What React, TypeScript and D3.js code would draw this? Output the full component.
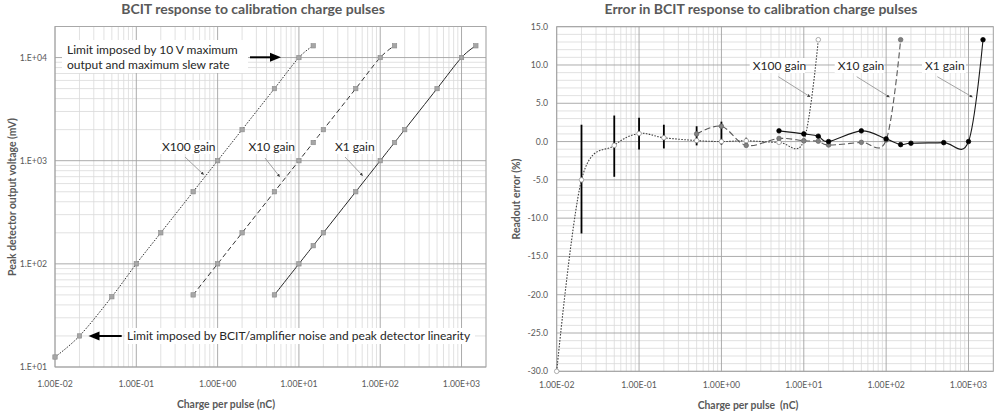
import React from 'react';
import * as d3 from 'd3';

// ---- left chart: peak detector output (mV) vs charge per pulse (nC)
const qX100 = [0.01, 0.02, 0.05, 0.1, 0.2, 0.5, 1, 2, 5, 10, 15];
const vX100 = [12.5, 20, 48, 100, 200, 500, 1000, 2000, 5000, 10000, 13000];
const qX10 = [0.5, 1, 2, 5, 10, 15, 20, 50, 100, 150];
const vX10 = [50, 100, 200, 500, 1000, 1500, 2000, 5000, 10000, 13000];
const qX1 = [5, 10, 15, 20, 50, 100, 150, 200, 500, 1000, 1500];
const vX1 = [50, 100, 150, 200, 500, 1000, 1500, 2000, 5000, 10000, 13000];

// ---- right chart: readout error (%) vs charge per pulse (nC)
const eqX100 = [0.01, 0.02, 0.05, 0.1, 0.2, 0.5, 1, 2, 5, 10, 15];
const errX100 = [-30, -5.0, -0.5, 1.05, 0.5, 0.13, 0.0, 0.1, -0.1, 0.1, 13.3];
const eqX10 = [0.5, 1, 2, 5, 10, 15, 20, 50, 100, 150];
const errX10 = [1.0, 2.0, -0.5, 0.4, 0.1, 0.05, -0.45, -0.1, 0.2, 13.3];
const eqX1 = [5, 10, 15, 20, 50, 100, 150, 200, 500, 1000, 1500];
const errX1 = [1.4, 1.0, 0.7, 0.0, 1.4, 0.35, -0.4, -0.22, -0.14, 0.0, 13.3];
const barQ = [0.02, 0.05, 0.1, 0.2, 0.5, 1, 2];
const barHi = [2.2, 3.4, 3.1, 2.2, 2.0, 2.6, 0.5];
const barLo = [-12.0, -4.6, -1.05, -0.9, -0.5, -0.4, -0.7];

const decadeLabels = ['1.00E-02', '1.00E-01', '1.00E+00', '1.00E+01', '1.00E+02', '1.00E+03'];
const voltLabels = ['1.E+01', '1.E+02', '1.E+03', '1.E+04'];
const errTicks = [15, 10, 5, 0, -5, -10, -15, -20, -25, -30];

const FONT = 'Lato, "Open Sans", sans-serif';
const TXT = '#595959';
const MAJOR = '#a3a3a3';
const MINOR = '#d9d9d9';

const zip = (a: number[], b: number[]) => a.map((v, i) => [v, b[i]] as [number, number]);
const isDecade = (v: number) => Math.abs(Math.log10(v) - Math.round(Math.log10(v))) < 1e-9;

const LeftChart = () => {
  const x = d3.scaleLog().domain([0.01, 2000]).range([55, 486]);
  const y = d3.scaleLog().domain([10, 20000]).range([367, 26.5]);
  const line = d3.line<[number, number]>()
    .x(d => x(d[0])).y(d => y(d[1]))
    .curve(d3.curveCardinal.tension(0));
  const series = [
    { pts: zip(qX100, vX100), dash: '1.6 1.4', color: '#333' },
    { pts: zip(qX10, vX10), dash: '5 3', color: '#333' },
    { pts: zip(qX1, vX1), dash: null, color: '#262626' },
  ];
  const [x0, x1] = x.range();
  const [y0, y1] = y.range();
  return (
    <g>
      <text x={253} y={13.5} textAnchor="middle" fontSize={14} fontWeight="bold" fill={TXT}>
        BCIT response to calibration charge pulses
      </text>
      {x.ticks().filter(v => !isDecade(v)).map(v => (
        <line key={'vx' + v} x1={x(v)} x2={x(v)} y1={y1} y2={y0} stroke={MINOR} strokeWidth={0.8} />
      ))}
      {y.ticks().filter(v => !isDecade(v)).map(v => (
        <line key={'vy' + v} x1={x0} x2={x1} y1={y(v)} y2={y(v)} stroke={MINOR} strokeWidth={0.8} />
      ))}
      {x.ticks().filter(isDecade).map(v => (
        <line key={'mx' + v} x1={x(v)} x2={x(v)} y1={y1} y2={y0} stroke={MAJOR} strokeWidth={0.9} />
      ))}
      {y.ticks().filter(isDecade).map(v => (
        <line key={'my' + v} x1={x0} x2={x1} y1={y(v)} y2={y(v)} stroke={MAJOR} strokeWidth={0.9} />
      ))}
      <rect x={x0} y={y1} width={x1 - x0} height={y0 - y1} fill="none" stroke={MAJOR} strokeWidth={0.9} />
      {x.ticks().filter(isDecade).map((v, i) => (
        <text key={'xl' + v} x={x(v)} y={387} textAnchor="middle" fontSize={8.7} fill={TXT}>{decadeLabels[i]}</text>
      ))}
      {y.ticks().filter(isDecade).map((v, i) => (
        <text key={'yl' + v} x={47} y={y(v) + 3} textAnchor="end" fontSize={8.7} fill={TXT}>{voltLabels[i]}</text>
      ))}
      <text x={226} y={408} textAnchor="middle" fontSize={10.4} fontWeight="bold" fill={TXT}>Charge per pulse (nC)</text>
      <text transform="translate(16,197) rotate(-90)" textAnchor="middle" fontSize={10.4} fontWeight="bold" fill={TXT}>
        Peak detector output voltage (mV)
      </text>

      {/* annotations */}
      <rect x={62} y={40} width={186} height={33} fill="#fff" />
      <text x={67} y={53.5} fontSize={12} fill="#262626">Limit imposed by 10 V maximum</text>
      <text x={67} y={68.5} fontSize={12} fill="#262626">output and maximum slew rate</text>
      <line x1={250} y1={57.3} x2={272} y2={57.3} stroke="#000" strokeWidth={2} />
      <path d="M281,57.3 L270,52.8 L270,61.8 Z" fill="#000" />
      <rect x={125} y={328} width={350} height={16} fill="#fff" />
      <text x={127} y={340} fontSize={12} fill="#262626">Limit imposed by BCIT/amplifier noise and peak detector linearity</text>
      <line x1={121.7} y1={336} x2={97} y2={336} stroke="#000" strokeWidth={2} />
      <path d="M88.5,336 L99.5,331.5 L99.5,340.5 Z" fill="#000" />

      {[
        { t: 'X100 gain', tx: 162, a: [185, 157, 203.5, 174.5] },
        { t: 'X10 gain', tx: 248.5, a: [265, 158, 279.5, 176.5] },
        { t: 'X1 gain', tx: 335, a: [345, 157, 362.5, 175.5] },
      ].map(l => (
        <g key={l.t}>
          <line x1={l.a[0]} y1={l.a[1]} x2={l.a[2]} y2={l.a[3]} stroke="#8c8c8c" strokeWidth={0.8} markerEnd="url(#tip)" />
          <rect x={l.tx - 2} y={140} width={l.t.length * 5.7 + 2} height={14} fill="#fff" />
          <text x={l.tx} y={150.7} fontSize={12} fill="#262626">{l.t}</text>
        </g>
      ))}

      {series.map((s, i) => (
        <path key={'ln' + i} d={line(s.pts) || ''} fill="none" stroke={s.color} strokeWidth={1}
          strokeDasharray={s.dash || undefined} />
      ))}
      {series.map((s, i) => s.pts.map((p, j) => (
        <rect key={'pt' + i + '-' + j} x={x(p[0]) - 2.2} y={y(p[1]) - 2.2} width={4.4} height={4.4}
          fill="#a6a6a6" stroke="#8a8a8a" strokeWidth={0.6} />
      )))}
    </g>
  );
};

const RightChart = () => {
  const x = d3.scaleLog().domain([0.01, 2000]).range([556.7, 993.3]);
  const y = d3.scaleLinear().domain([-30, 15]).range([371.3, 26.7]);
  const line = d3.line<[number, number]>()
    .x(d => x(d[0])).y(d => y(d[1]))
    .curve(d3.curveCardinal.tension(0));
  const [x0, x1] = x.range();
  const [y0, y1] = y.range();
  const units = d3.range(-30, 16, 1);
  const series = [
    { pts: zip(eqX100, errX100), dash: '1.6 1.4', color: '#404040', fill: '#fff', stroke: '#8c8c8c' },
    { pts: zip(eqX10, errX10), dash: '6 3', color: '#595959', fill: '#808080', stroke: '#666' },
    { pts: zip(eqX1, errX1), dash: null, color: '#1a1a1a', fill: '#000', stroke: '#000' },
  ];
  return (
    <g>
      <text x={761} y={13.5} textAnchor="middle" fontSize={14} fontWeight="bold" fill={TXT}>
        Error in BCIT response to calibration charge pulses
      </text>
      {x.ticks().filter(v => !isDecade(v)).map(v => (
        <line key={'vx' + v} x1={x(v)} x2={x(v)} y1={y1} y2={y0} stroke={MINOR} strokeWidth={0.8} />
      ))}
      {units.filter(v => v % 5 !== 0).map(v => (
        <line key={'vy' + v} x1={x0} x2={x1} y1={y(v)} y2={y(v)} stroke={MINOR} strokeWidth={0.8} />
      ))}
      {x.ticks().filter(isDecade).map(v => (
        <line key={'mx' + v} x1={x(v)} x2={x(v)} y1={y1} y2={y0} stroke={MAJOR} strokeWidth={0.9} />
      ))}
      {errTicks.map(v => (
        <line key={'my' + v} x1={x0} x2={x1} y1={y(v)} y2={y(v)} stroke={MAJOR} strokeWidth={0.9} />
      ))}
      <rect x={x0} y={y1} width={x1 - x0} height={y0 - y1} fill="none" stroke={MAJOR} strokeWidth={0.9} />
      {x.ticks().filter(isDecade).map((v, i) => (
        <text key={'xl' + v} x={x(v)} y={388} textAnchor="middle" fontSize={8.7} fill={TXT}>{decadeLabels[i]}</text>
      ))}
      {errTicks.map(v => (
        <text key={'yl' + v} x={548} y={y(v) + 3} textAnchor="end" fontSize={8.7} fill={TXT}>{v.toFixed(1)}</text>
      ))}
      <text x={748} y={409} textAnchor="middle" fontSize={10.4} fontWeight="bold" fill={TXT} style={{ whiteSpace: 'pre' }}>
        {'Charge per pulse  (nC)'}
      </text>
      <text transform="translate(520,199) rotate(-90)" textAnchor="middle" fontSize={10.4} fontWeight="bold" fill={TXT}>
        Readout error (%)
      </text>

      {[
        { t: 'X100 gain', tx: 752.7, a: [778.3, 76.7, 810, 96.7] },
        { t: 'X10 gain', tx: 837.7, a: [856.7, 76.7, 889.3, 97] },
        { t: 'X1 gain', tx: 925, a: [937.3, 76.7, 972.3, 97] },
      ].map(l => (
        <g key={l.t}>
          <line x1={l.a[0]} y1={l.a[1]} x2={l.a[2]} y2={l.a[3]} stroke="#8c8c8c" strokeWidth={0.8} markerEnd="url(#tip)" />
          <rect x={l.tx - 3} y={58} width={l.t.length * 5.7 + 4} height={15} fill="#fff" />
          <text x={l.tx} y={69.7} fontSize={12} fill="#262626">{l.t}</text>
        </g>
      ))}

      {barQ.map((q, i) => (
        <line key={'eb' + i} x1={x(q)} x2={x(q)} y1={y(barHi[i])} y2={y(barLo[i])} stroke="#000" strokeWidth={1.8} />
      ))}
      {series.map((s, i) => (
        <path key={'ln' + i} d={line(s.pts) || ''} fill="none" stroke={s.color} strokeWidth={1.1}
          strokeDasharray={s.dash || undefined} />
      ))}
      {series.map((s, i) => s.pts.map((p, j) => (
        <circle key={'pt' + i + '-' + j} cx={x(p[0])} cy={y(p[1])} r={2.3}
          fill={s.fill} stroke={s.stroke} strokeWidth={0.7} />
      )))}
    </g>
  );
};

export default function App() {
  return (
    <div style={{ position: 'absolute', left: 0, top: 0 }}>
      <svg width={996} height={415} style={{ display: 'block', background: '#fff', fontFamily: FONT }}>
        <defs>
          <marker id="tip" viewBox="0 0 6 6" refX={5} refY={3} markerWidth={4} markerHeight={4} orient="auto">
            <path d="M0,0 L6,3 L0,6 Z" fill="#404040" />
          </marker>
        </defs>
        <LeftChart />
        <RightChart />
      </svg>
    </div>
  );
}
